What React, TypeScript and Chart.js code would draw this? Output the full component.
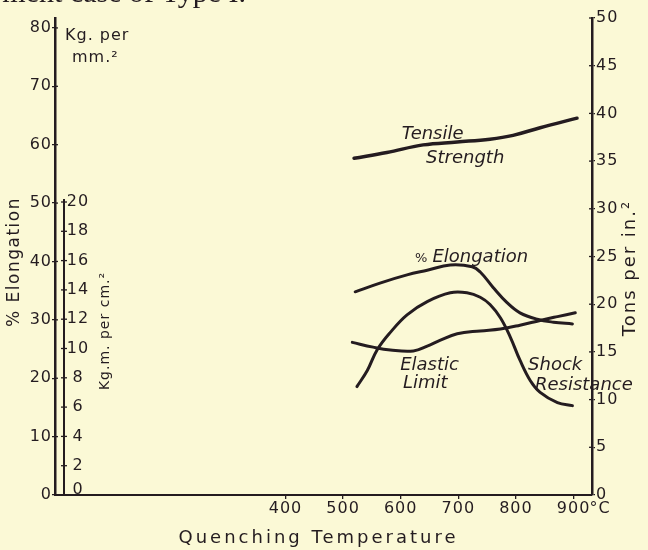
import React, { useEffect, useRef } from 'react';
import { Chart, registerables } from 'chart.js';

Chart.register(...registerables);

// ---- axis ticks ----
const tempTicks = [400, 500, 600, 700, 800, 900];
const elongTicks = [0, 10, 20, 30, 40, 50, 60, 70, 80];
const kgmTicks = [0, 2, 4, 6, 8, 10, 12, 14, 16, 18, 20];
const tonsTicks = [0, 5, 10, 15, 20, 25, 30, 35, 40, 45, 50];

// ---- series (x: quenching temperature °C) ----
const tensileTemp = [519, 576, 639, 698, 755, 795, 842, 906];
const tensileTons = [35.3, 35.9, 36.7, 37.0, 37.3, 37.7, 38.5, 39.5];

const elongTemp = [521, 564, 611, 646, 686, 724, 738, 760, 785, 807, 837, 865, 898];
const elongPct = [34.8, 36.3, 37.7, 38.5, 39.4, 39.1, 38.2, 35.6, 32.9, 31.2, 30.1, 29.6, 29.3];

const elasticTemp = [516, 552, 582, 622, 646, 668, 698, 738, 773, 807, 842, 872, 903];
const elasticTons = [16.0, 15.5, 15.2, 15.1, 15.6, 16.2, 16.9, 17.2, 17.4, 17.8, 18.3, 18.7, 19.1];

const shockTemp = [524, 542, 559, 582, 611, 646, 686, 715, 738, 755, 773, 790, 807, 825, 842, 872, 898];
const shockKgm = [7.4, 8.5, 9.9, 11.1, 12.3, 13.2, 13.8, 13.8, 13.5, 13.0, 12.1, 10.8, 9.2, 7.8, 7.0, 6.3, 6.1];

const INK = '#241c20';
const PAPER = '#fbf9d6';
const SANS = '"DejaVu Sans", sans-serif';

const toPts = (xs: number[], ys: number[]) => xs.map((x, i) => ({ x, y: ys[i] }));

const setTicks = (vals: number[]) => (s: any) => {
  s.ticks = vals.map((v) => ({ value: v }));
};

const annotate = {
  id: 'annotate',
  beforeDraw(chart: any) {
    const ctx = chart.ctx;
    ctx.save();
    ctx.fillStyle = PAPER;
    ctx.fillRect(0, 0, chart.width, chart.height);
    ctx.restore();
    ctx.letterSpacing = '1px';
  },
  afterDraw(chart: any) {
    const ctx = chart.ctx;
    const xs = chart.scales.x;
    const yE = chart.scales.yE;
    const yT = chart.scales.yT;
    const yK = chart.scales.yK;
    const area = chart.chartArea;
    ctx.save();
    ctx.fillStyle = INK;
    ctx.strokeStyle = INK;

    // inner halves of the cross-shaped tick marks
    ctx.lineWidth = 1.3;
    yE.ticks.forEach((t: any) => {
      const y = yE.getPixelForValue(t.value);
      ctx.beginPath();
      ctx.moveTo(area.left, y);
      ctx.lineTo(area.left + 3, y);
      ctx.stroke();
    });
    yT.ticks.forEach((t: any) => {
      const y = yT.getPixelForValue(t.value);
      ctx.beginPath();
      ctx.moveTo(area.right - 3, y);
      ctx.lineTo(area.right, y);
      ctx.stroke();
    });

    // secondary left axis: Kg.m. per cm.²
    const kx = area.left + 9;
    ctx.lineWidth = 2;
    ctx.beginPath();
    ctx.moveTo(kx, yK.getPixelForValue(0));
    ctx.lineTo(kx, yK.getPixelForValue(20) - 3);
    ctx.stroke();
    ctx.lineWidth = 1.3;
    ctx.font = `16px ${SANS}`;
    ctx.textAlign = 'center';
    ctx.textBaseline = 'middle';
    kgmTicks.forEach((v) => {
      const y = yK.getPixelForValue(v);
      ctx.beginPath();
      ctx.moveTo(kx - 3, y);
      ctx.lineTo(kx + 3, y);
      ctx.stroke();
      ctx.fillText(String(v), kx + 14, v === 0 ? y - 5 : y);
    });

    // unit of 900 tick
    ctx.textAlign = 'left';
    ctx.textBaseline = 'middle';
    ctx.fillText('°C', xs.getPixelForValue(900) + 16, area.bottom + 14);

    // curve labels (italic)
    const label = (t: string, temp: number, tons: number, size = 18) => {
      ctx.font = `italic ${size}px ${SANS}`;
      ctx.textAlign = 'left';
      ctx.textBaseline = 'alphabetic';
      ctx.fillText(t, xs.getPixelForValue(temp), yT.getPixelForValue(tons));
    };
    ctx.letterSpacing = '0px';
    label('Tensile', 602, 37.3);
    label('Strength', 644, 34.8);
    ctx.font = `13px ${SANS}`;
    ctx.fillText('%', xs.getPixelForValue(625), yT.getPixelForValue(24.4));
    label('Elongation', 655, 24.4);
    label('Elastic', 599, 13.1);
    label('Limit', 604, 11.2);
    label('Shock', 821, 13.1);
    label('Resistance', 833, 11.0);

    // axis titles
    const vtext = (t: string, cx: number, cy: number, font: string, sp: string) => {
      ctx.save();
      ctx.translate(cx, cy);
      ctx.rotate(-Math.PI / 2);
      ctx.font = font;
      ctx.letterSpacing = sp;
      ctx.textAlign = 'center';
      ctx.textBaseline = 'middle';
      ctx.fillText(t, 0, 0);
      ctx.restore();
    };
    vtext('% Elongation', 15, 262, `17px ${SANS}`, '1.5px');
    vtext('Kg.m. per cm.²', 105, 331, `14px ${SANS}`, '1px');
    vtext('Tons per in.²', 630, 268, `18px ${SANS}`, '2px');

    ctx.letterSpacing = '3px';
    ctx.font = `18px ${SANS}`;
    ctx.textAlign = 'center';
    ctx.textBaseline = 'alphabetic';
    ctx.fillText('Quenching Temperature', (area.left + area.right) / 2 - 5, 543);

    ctx.letterSpacing = '1px';
    ctx.font = `16px ${SANS}`;
    ctx.textAlign = 'left';
    ctx.fillText('Kg. per', area.left + 10, 40);
    ctx.fillText('mm.²', area.left + 17, 62);

    // cropped running text of the book page
    ctx.letterSpacing = '0px';
    ctx.font = `30px "Liberation Serif", serif`;
    ctx.textAlign = 'right';
    ctx.fillText('ment case of Type I.', 246, 2);
    ctx.restore();
  },
};

export default function App() {
  const ref = useRef<HTMLCanvasElement | null>(null);
  useEffect(() => {
    document.body.style.margin = '0';
    document.body.style.background = PAPER;
    if (!ref.current) return;
    const line = (data: any, yAxisID: string, w = 3) => ({
      type: 'line',
      data,
      yAxisID,
      borderColor: INK,
      borderWidth: w,
      pointRadius: 0,
      tension: 0.4,
      fill: false,
      borderCapStyle: 'round',
      borderJoinStyle: 'round',
    });
    const tickFont = { family: SANS, size: 16 };
    const chart = new Chart(ref.current, {
      type: 'line',
      data: {
        datasets: [
          line(toPts(tensileTemp, tensileTons), 'yT', 3.5),
          line(toPts(elongTemp, elongPct), 'yE', 3),
          line(toPts(elasticTemp, elasticTons), 'yT', 3),
          line(toPts(shockTemp, shockKgm), 'yK', 3),
        ] as any,
      },
      options: {
        animation: false,
        responsive: false,
        devicePixelRatio: 1,
        parsing: false as any,
        layout: { padding: { top: 18, left: 0, right: 0, bottom: 0 } },
        plugins: { legend: { display: false }, tooltip: { enabled: false } },
        scales: {
          x: {
            type: 'linear',
            position: 'bottom',
            min: 0,
            max: 932,
            afterFit: (s: any) => { s.height = 55; },
            afterBuildTicks: setTicks(tempTicks),
            grid: { drawOnChartArea: false, drawTicks: true, tickLength: 4, color: INK, lineWidth: 1.3 },
            border: { display: true, color: INK, width: 2 },
            ticks: { color: INK, font: tickFont, padding: 0, maxRotation: 0, autoSkip: false },
          },
          yE: {
            type: 'linear',
            position: 'left',
            min: 0,
            max: 81.7,
            afterFit: (s: any) => { s.width = 55; },
            afterBuildTicks: setTicks(elongTicks),
            grid: { drawOnChartArea: false, drawTicks: true, tickLength: 3, color: INK, lineWidth: 1.3 },
            border: { display: true, color: INK, width: 2.5 },
            ticks: { color: INK, font: tickFont, padding: 0 },
          },
          yK: {
            type: 'linear',
            display: false,
            position: 'left',
            min: 0,
            max: 32.56,
          },
          yT: {
            type: 'linear',
            position: 'right',
            min: 0,
            max: 50,
            afterFit: (s: any) => { s.width = 56; },
            afterBuildTicks: setTicks(tonsTicks),
            grid: { drawOnChartArea: false, drawTicks: true, tickLength: 3, color: INK, lineWidth: 1.3 },
            border: { display: true, color: INK, width: 2.5 },
            ticks: { color: INK, font: tickFont, padding: 1 },
          },
        },
      } as any,
      plugins: [annotate],
    });
    return () => chart.destroy();
  }, []);
  return (
    <div style={{ width: 648, height: 550, background: PAPER }}>
      <canvas ref={ref} width={648} height={550} style={{ display: 'block' }} />
    </div>
  );
}
